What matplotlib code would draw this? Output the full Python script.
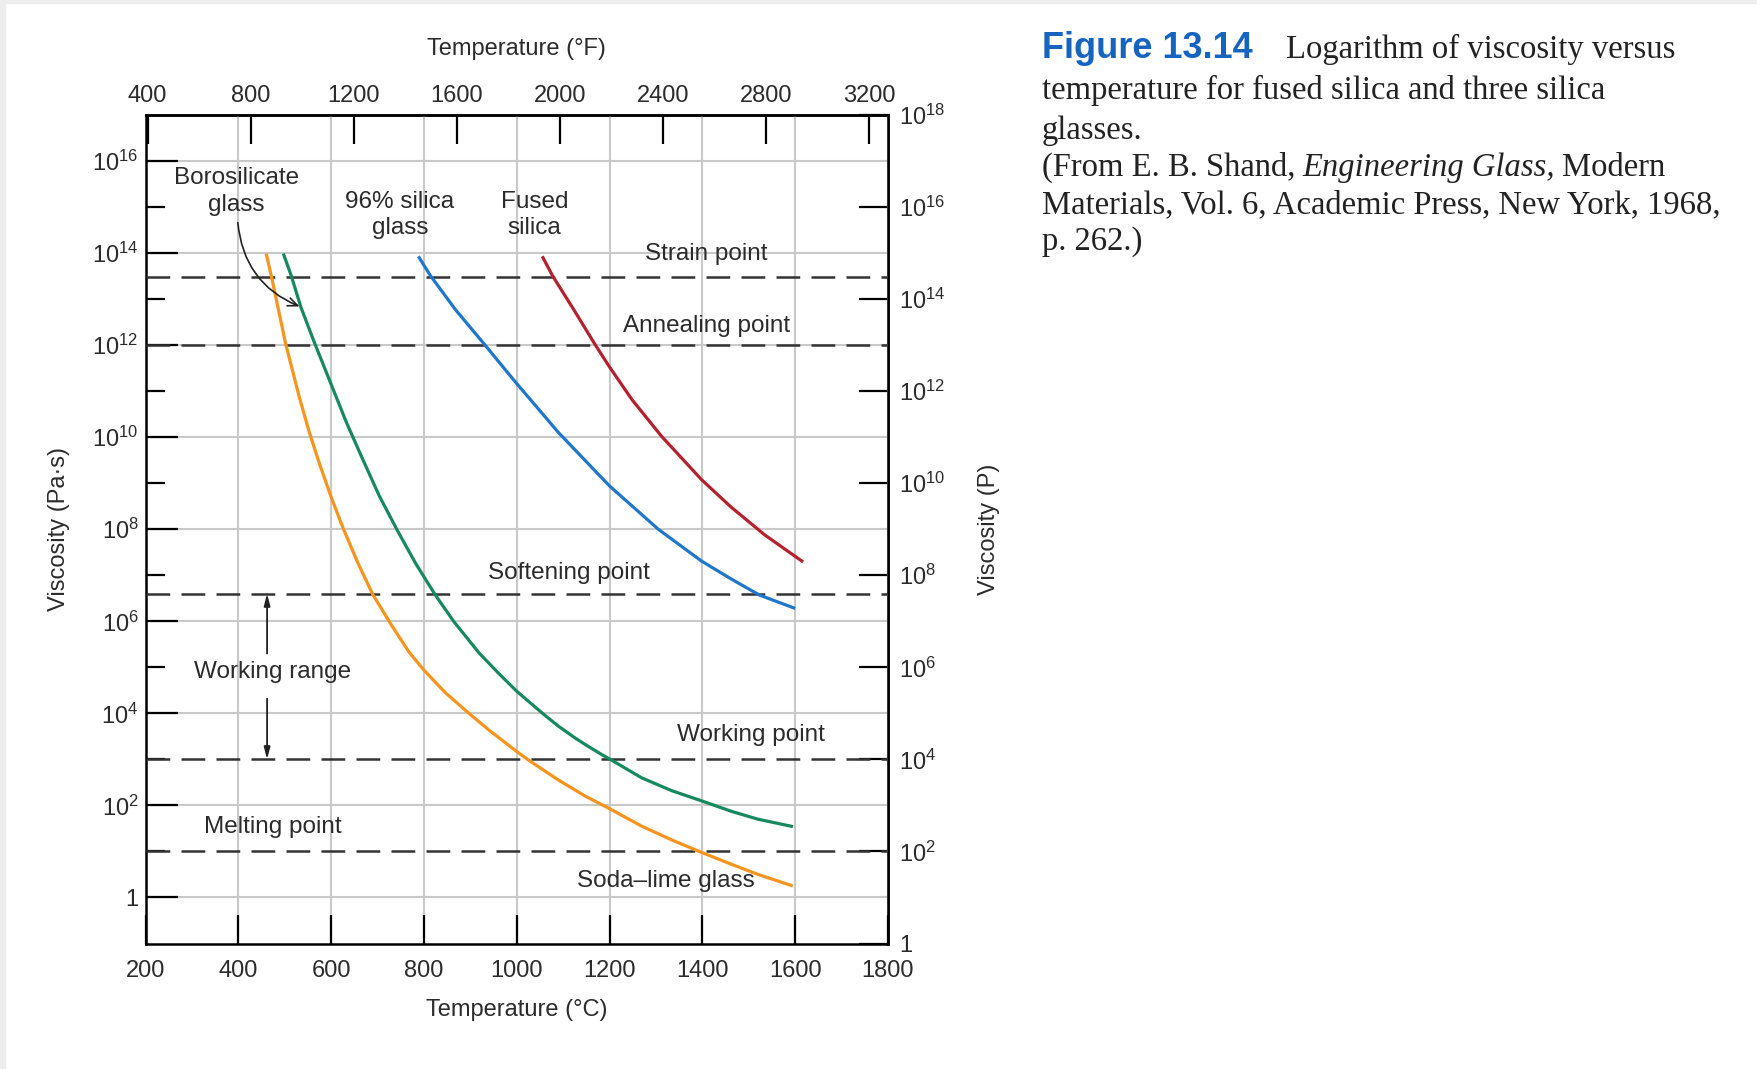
import matplotlib
matplotlib.use("Agg")
import math
import matplotlib.pyplot as plt
from matplotlib import font_manager
from matplotlib.patches import Rectangle
from matplotlib.ticker import FixedLocator, NullLocator, FuncFormatter

# ---------------- data (temperature in °C, log10 viscosity in Pa·s) ----------------
soda_T = [460, 471, 502, 532, 552, 575, 600, 626, 658, 690, 728, 768, 800, 846, 897, 941,
          1000, 1026, 1090, 1148, 1200, 1269, 1334, 1398, 1463, 1520, 1595]
soda_log = [13.99, 13.51, 12.03, 10.85, 10.14, 9.42, 8.70, 8.02, 7.26, 6.58, 5.95, 5.33, 4.94,
            4.45, 4.00, 3.63, 3.17, 2.98, 2.55, 2.20, 1.93, 1.55, 1.25, 0.98, 0.72, 0.50, 0.25]

boro_T = [497, 514, 535, 565, 606, 633, 669, 704, 743, 782, 824, 864, 919, 960, 1000, 1058,
          1090, 1125, 1148, 1184, 1205, 1269, 1334, 1398, 1463, 1520, 1595]
boro_log = [13.99, 13.51, 12.82, 12.03, 11.00, 10.32, 9.50, 8.72, 7.97, 7.26, 6.58, 6.00, 5.31,
            4.88, 4.48, 3.98, 3.72, 3.47, 3.32, 3.10, 2.98, 2.60, 2.32, 2.10, 1.87, 1.70, 1.54]

silica96_T = [788, 814, 868, 931, 997, 1090, 1200, 1305, 1398, 1462, 1523, 1600]
silica96_log = [13.93, 13.51, 12.77, 12.01, 11.20, 10.10, 8.94, 8.00, 7.31, 6.92, 6.57, 6.28]

fused_T = [1055, 1077, 1126, 1169, 1199, 1248, 1312, 1398, 1462, 1534, 1617]
fused_log = [13.93, 13.51, 12.72, 12.01, 11.54, 10.82, 10.02, 9.08, 8.48, 7.88, 7.29]

ref_names = ["Strain point", "Annealing point", "Softening point", "Working point", "Melting point"]
ref_values = [3e13, 1e12, 4e6, 1e3, 1e1]  # Pa·s

x_ticks_C = [200, 400, 600, 800, 1000, 1200, 1400, 1600, 1800]
x_ticks_F = [400, 800, 1200, 1600, 2000, 2400, 2800, 3200]
y_major_exp = [0, 2, 4, 6, 8, 10, 12, 14, 16]
y_minor_exp = [1, 3, 5, 7, 9, 11, 13, 15]
y_right_exp = [0, 2, 4, 6, 8, 10, 12, 14, 16, 18]

# ---------------- fonts ----------------
avail = {f.name for f in font_manager.fontManager.ttflist}
def pick(cands):
    for c in cands:
        if c in avail:
            return c
    return "DejaVu Sans"
SANS = pick(["Liberation Sans", "Roboto", "DejaVu Sans"])
SERIF = pick(["Liberation Serif", "DejaVu Serif"])
plt.rcParams["font.family"] = [SANS, "DejaVu Sans"]
plt.rcParams["mathtext.fontset"] = "custom"
plt.rcParams["mathtext.rm"] = SANS
plt.rcParams["mathtext.it"] = SANS + ":italic"
plt.rcParams["mathtext.bf"] = SANS + ":bold"

W, H = 1757, 1069
fig = plt.figure(figsize=(W / 100, H / 100), dpi=100)
fig.patch.set_facecolor("white")
# faint page edge of the scan
fig.patches.append(Rectangle((0, 0), 5 / W, 1, transform=fig.transFigure, color="#ededed", zorder=0))
fig.patches.append(Rectangle((0, 1 - 3 / H), 1, 3 / H, transform=fig.transFigure, color="#ededed", zorder=0))

L, R, T, B = 145.5, 888.0, 115.0, 943.5
ax = fig.add_axes([L / W, 1 - B / H, (R - L) / W, (B - T) / H])

col_soda = "#F7941E"
col_boro = "#16895F"
col_96 = "#1F77C9"
col_fused = "#B3212F"
txt_col = "#2b2b2b"

lw_curve = 2.3
for xs, ys, c in [(soda_T, soda_log, col_soda), (boro_T, boro_log, col_boro),
                  (silica96_T, silica96_log, col_96), (fused_T, fused_log, col_fused)]:
    ax.plot(xs, [10 ** v for v in ys], color=c, lw=lw_curve, zorder=5,
            solid_capstyle="butt", solid_joinstyle="round")

for v in ref_values:
    ax.axhline(v, color="#333333", lw=1.8, ls=(0, (9.5, 4.5)), zorder=4)

ax.set_yscale("log")
ax.set_xlim(200, 1800)
ax.set_ylim(10 ** -1.0, 10 ** 17.0)

ax.xaxis.set_major_locator(FixedLocator(x_ticks_C))
ax.xaxis.set_minor_locator(NullLocator())
ax.yaxis.set_major_locator(FixedLocator([10.0 ** e for e in y_major_exp]))
ax.yaxis.set_minor_locator(FixedLocator([10.0 ** e for e in y_minor_exp]))

def fmt_pow(v, pos=None):
    e = int(round(math.log10(v)))
    return "1" if e == 0 else r"$10^{%d}$" % e

ax.yaxis.set_major_formatter(FuncFormatter(fmt_pow))
ax.yaxis.set_minor_formatter(FuncFormatter(lambda v, p: ""))
ax.xaxis.set_major_formatter(FuncFormatter(lambda v, p: "%d" % v))

ax.grid(True, which="major", color="#c9c9c9", lw=1.5, zorder=1)
ax.set_axisbelow(True)

ax.tick_params(axis="x", which="major", direction="in", length=21, width=1.6,
               labelsize=17, pad=12, top=False, bottom=True, labelcolor=txt_col)
ax.tick_params(axis="y", which="major", direction="in", length=23, width=1.6,
               labelsize=17, pad=5, right=False, labelcolor=txt_col)
ax.tick_params(axis="y", which="minor", direction="in", length=14, width=1.6, right=False)

for s in ax.spines.values():
    s.set_linewidth(1.8)
    s.set_color("black")

# top °F axis
secx = ax.secondary_xaxis("top", functions=(lambda c: c * 9 / 5 + 32, lambda f: (f - 32) * 5 / 9))
secx.xaxis.set_major_locator(FixedLocator(x_ticks_F))
secx.xaxis.set_minor_locator(NullLocator())
secx.xaxis.set_major_formatter(FuncFormatter(lambda v, p: "%d" % v))
secx.tick_params(direction="in", length=21, width=1.6, labelsize=17, pad=5.5, labelcolor=txt_col)
secx.spines["top"].set_linewidth(1.8)
secx.set_xlabel("Temperature (°F)", fontsize=17, labelpad=22, color=txt_col)

# right poise axis
secy = ax.secondary_yaxis("right", functions=(lambda v: v * 10, lambda v: v / 10))
secy.yaxis.set_major_locator(FixedLocator([10.0 ** e for e in y_right_exp]))
secy.yaxis.set_minor_locator(NullLocator())
secy.yaxis.set_major_formatter(FuncFormatter(fmt_pow))
secy.tick_params(direction="in", length=21, width=1.6, labelsize=17, pad=8, labelcolor=txt_col)
secy.spines["right"].set_linewidth(1.8)
secy.set_ylabel("Viscosity (P)", fontsize=17, labelpad=23, color=txt_col)

ax.set_xlabel("Temperature (°C)", fontsize=17, labelpad=12, color=txt_col)
ax.set_ylabel("Viscosity (Pa·s)", fontsize=17, labelpad=16, color=txt_col)

# labels inside the plot
fs = 17.5
ax.text(396, 10 ** 15.34, "Borosilicate\nglass", ha="center", va="center", fontsize=fs,
        color=txt_col, linespacing=1.25, zorder=6)
ax.text(748, 10 ** 14.83, "96% silica\nglass", ha="center", va="center", fontsize=fs,
        color=txt_col, linespacing=1.25, zorder=6)
ax.text(1038, 10 ** 14.83, "Fused\nsilica", ha="center", va="center", fontsize=fs,
        color=txt_col, linespacing=1.25, zorder=6)
ax.text(1409, 10 ** 13.98, ref_names[0], ha="center", va="center", fontsize=fs, color=txt_col, zorder=6)
ax.text(1409, 10 ** 12.42, ref_names[1], ha="center", va="center", fontsize=fs, color=txt_col, zorder=6)
ax.text(1112, 10 ** 7.04, ref_names[2], ha="center", va="center", fontsize=fs, color=txt_col, zorder=6)
ax.text(1504, 10 ** 3.54, ref_names[3], ha="center", va="center", fontsize=fs, color=txt_col, zorder=6)
ax.text(474, 10 ** 1.54, ref_names[4], ha="center", va="center", fontsize=fs, color=txt_col, zorder=6)
ax.text(474, 10 ** 4.9, "Working range", ha="center", va="center", fontsize=fs, color=txt_col, zorder=6)
ax.text(1321, 10 ** 0.35, "Soda\u2013lime glass", ha="center", va="center", fontsize=fs, color=txt_col, zorder=6)

# working range arrows
arr_kw = dict(arrowstyle="-|>,head_length=0.7,head_width=0.18", color="#222222", lw=1.3,
              shrinkA=0, shrinkB=0)
ax.annotate("", xy=(462, 4e6), xytext=(462, 10 ** 5.3), arrowprops=arr_kw, zorder=6)
ax.annotate("", xy=(462, 1e3), xytext=(462, 10 ** 4.32), arrowprops=arr_kw, zorder=6)

# borosilicate pointer arrow
ax.annotate("", xy=(532, 10 ** 12.84), xytext=(399, 10 ** 14.66),
            arrowprops=dict(arrowstyle="->,head_length=0.7,head_width=0.3", color="#222222",
                            lw=1.2, shrinkA=0, shrinkB=0, connectionstyle="arc3,rad=0.3"),
            zorder=6)

# ---------------- caption ----------------
def fx(x):
    return x / W
def fy(y):
    return 1 - y / H

cap_fs = 23.5
serif = [SERIF, "DejaVu Serif"]
cap_col = "#222222"
fig.text(fx(1042), fy(58), "Figure 13.14", fontsize=26, fontweight="bold", color="#1565C0",
         family=[SANS, "DejaVu Sans"], va="baseline", ha="left")
fig.text(fx(1286), fy(58), "Logarithm of viscosity versus", fontsize=cap_fs, color=cap_col,
         family=serif, va="baseline", ha="left")
fig.text(fx(1042), fy(99.5), "temperature for fused silica and three silica", fontsize=cap_fs,
         color=cap_col, family=serif, va="baseline", ha="left")
fig.text(fx(1042), fy(139), "glasses.", fontsize=cap_fs, color=cap_col,
         family=serif, va="baseline", ha="left")

renderer = fig.canvas.get_renderer()
t1 = fig.text(fx(1042), fy(176), "(From E. B. Shand,", fontsize=cap_fs, color=cap_col,
              family=serif, va="baseline", ha="left")
bb = t1.get_window_extent(renderer)
t2 = fig.text((bb.x1 + 7) / W, fy(176), "Engineering Glass,", fontsize=cap_fs, color=cap_col,
              family=serif, style="italic", va="baseline", ha="left")
bb2 = t2.get_window_extent(renderer)
fig.text((bb2.x1 + 7) / W, fy(176), "Modern", fontsize=cap_fs, color=cap_col,
         family=serif, va="baseline", ha="left")
fig.text(fx(1042), fy(213), "Materials, Vol. 6, Academic Press, New York, 1968,", fontsize=cap_fs,
         color=cap_col, family=serif, va="baseline", ha="left")
fig.text(fx(1042), fy(250), "p. 262.)", fontsize=cap_fs, color=cap_col,
         family=serif, va="baseline", ha="left")

fig.savefig("out.png", dpi=100, facecolor="white")
